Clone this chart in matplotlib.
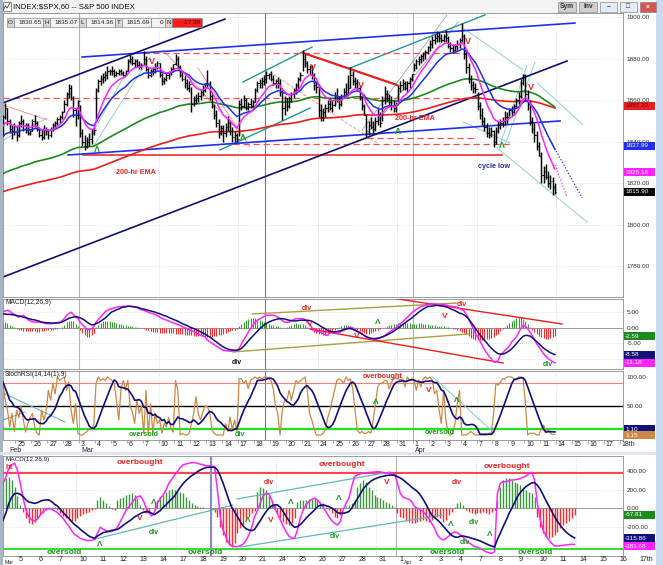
import numpy as np
import pandas as pd
import matplotlib
matplotlib.use("Agg")
import matplotlib.pyplot as plt
import matplotlib.transforms as mtransforms
from matplotlib.patches import Rectangle

plt.rcParams['font.family'] = ['Liberation Sans', 'DejaVu Sans']

W, H = 663, 565

# S&P 500 60-min bars, Feb 24 .. Apr 11 2014, one row per session (7 bars)
high = [
    1845, 1853, 1858.7, 1856, 1851, 1848, 1849,       # Feb 24
    1848, 1850, 1852.9, 1851, 1849, 1849, 1846,       # Feb 25
    1851, 1852.7, 1850, 1847, 1846, 1848, 1847,       # Feb 26
    1846, 1847, 1849, 1850, 1852, 1853, 1854.5,       # Feb 27
    1860, 1864, 1867.9, 1867, 1862, 1856, 1860,       # Feb 28
    1857.7, 1846, 1843, 1842, 1844, 1846, 1847,       # Mar 3
    1866, 1870, 1872, 1873, 1874, 1876.2, 1875,       # Mar 4
    1876.5, 1875, 1874, 1875, 1875, 1874, 1874.5,     # Mar 5
    1880, 1881.9, 1881, 1880, 1880, 1879, 1878,       # Mar 6
    1883.6, 1881, 1876, 1875, 1876, 1878, 1879,       # Mar 7
    1877.9, 1873, 1871, 1873, 1874, 1876, 1877.5,     # Mar 10
    1882.4, 1881, 1877, 1874, 1872, 1870, 1869,       # Mar 11
    1866.2, 1862, 1863, 1864, 1865, 1867, 1868.4,     # Mar 12
    1874.4, 1869, 1863, 1858, 1855, 1851, 1848,       # Mar 13
    1848, 1849, 1852.4, 1850, 1847, 1845, 1844,       # Mar 14
    1860, 1861, 1862.3, 1861, 1859, 1861, 1860,       # Mar 17
    1866, 1869, 1870, 1871, 1872, 1873.8, 1873,       # Mar 18
    1874.1, 1872, 1870, 1871, 1870, 1866, 1862,       # Mar 19
    1861, 1862, 1864, 1866, 1868, 1871, 1873.5,       # Mar 20
    1884, 1882, 1879, 1877, 1877, 1873, 1869,         # Mar 21
    1867.7, 1858, 1856, 1858, 1860, 1861, 1860,       # Mar 24
    1864, 1866, 1862, 1863, 1866, 1868, 1871.9,       # Mar 25
    1875.9, 1874, 1871, 1870, 1867, 1862, 1858,       # Mar 26
    1853, 1850, 1852, 1850, 1852, 1855.6, 1854,       # Mar 27
    1862, 1866.6, 1865, 1863, 1862, 1860, 1859,       # Mar 28
    1867, 1869, 1870, 1869, 1869, 1871, 1872.3,       # Mar 31
    1878, 1880, 1881, 1882, 1883, 1884, 1885.8,       # Apr 1
    1889, 1891, 1892, 1893.2, 1893, 1892, 1892,       # Apr 2
    1893.8, 1891, 1888, 1887, 1887, 1889, 1890,       # Apr 3
    1897.3, 1892, 1884, 1878, 1872, 1869, 1868,       # Apr 4
    1864, 1859, 1856, 1852, 1849, 1847, 1847,         # Apr 7
    1845.5, 1847, 1850, 1851, 1852, 1854.9, 1854,     # Apr 8
    1856, 1857, 1858, 1861, 1864, 1870, 1872.4,       # Apr 9
    1872.5, 1865, 1860, 1852, 1849, 1845, 1840,       # Apr 10
    1835.1, 1828, 1829, 1826, 1824, 1823, 1820,       # Apr 11
]
low = [
    1836.8, 1843, 1851, 1848, 1844, 1841, 1843,
    1840.2, 1842, 1847, 1845, 1844, 1843, 1843,
    1845, 1847, 1845, 1842, 1840.7, 1841, 1843,
    1841.1, 1842, 1845, 1846, 1848, 1849, 1851,
    1854, 1857, 1861, 1860, 1852, 1847.5, 1851,
    1842, 1838, 1836, 1837, 1838, 1839, 1843,
    1849.2, 1864, 1867, 1868, 1869, 1870, 1872,
    1872, 1871.1, 1871.5, 1872, 1872, 1871.5, 1872,
    1874.2, 1878, 1877, 1876, 1876, 1875, 1875,
    1877, 1874, 1870.6, 1871, 1872, 1873, 1875,
    1871, 1867, 1867.5, 1869, 1870, 1872, 1874,
    1877, 1875, 1871, 1869, 1866, 1865, 1863.9,
    1854.4, 1857, 1858, 1859, 1860, 1862, 1864,
    1866, 1860, 1856, 1851, 1847, 1841.9, 1843,
    1840, 1842, 1845, 1843, 1840, 1839.6, 1840,
    1842.8, 1855, 1856, 1855, 1855, 1856, 1856,
    1858.9, 1864, 1866, 1866, 1867, 1868, 1870,
    1869, 1867, 1866, 1866, 1862, 1850.3, 1853,
    1854.6, 1856, 1859, 1861, 1863, 1865, 1869,
    1874, 1876, 1873, 1872, 1870, 1865, 1863.5,
    1852, 1849.7, 1850, 1852, 1854, 1855, 1854,
    1857, 1859, 1855.9, 1857, 1861, 1862, 1863,
    1866, 1867, 1866, 1865, 1860, 1855, 1852.6,
    1842.1, 1843, 1846, 1844, 1845, 1848, 1847,
    1850.1, 1858, 1859, 1857, 1855, 1854, 1854,
    1859.2, 1864, 1865, 1865, 1864, 1866, 1869,
    1873.9, 1875, 1877, 1878, 1879, 1880, 1882,
    1883.8, 1885, 1887, 1888, 1888, 1888, 1888,
    1888, 1885, 1883, 1882.7, 1883, 1884, 1885,
    1888, 1880, 1873, 1868, 1865, 1863.3, 1863.5,
    1855, 1851, 1848, 1845, 1842, 1841.5, 1842,
    1837.5, 1839, 1844, 1846, 1847, 1848, 1849,
    1852.4, 1852.5, 1853, 1856, 1858, 1861, 1867,
    1860, 1855, 1848, 1844, 1840, 1836, 1833.1,
    1820, 1820, 1822, 1818, 1817, 1814.4, 1814.5,
]
close = [
    1843, 1852, 1856, 1850, 1846, 1845, 1847.6,
    1843, 1849, 1850, 1846, 1848, 1844, 1845.1,
    1850, 1849, 1846, 1843, 1842, 1846, 1845.2,
    1843, 1846, 1848, 1849, 1851, 1852, 1854.3,
    1858, 1863, 1866, 1861, 1855, 1853, 1859.5,
    1844, 1840, 1838, 1840, 1841, 1844, 1845.7,
    1865, 1869, 1870, 1871, 1872, 1874, 1873.9,
    1874, 1872, 1873, 1874, 1873, 1872, 1873.8,
    1879, 1880, 1878, 1879, 1877, 1876, 1877,
    1880, 1875, 1872, 1874, 1875, 1876, 1878,
    1872, 1869, 1870, 1872, 1873, 1875, 1877.2,
    1880, 1876, 1872, 1870, 1868, 1866, 1867.6,
    1858, 1860, 1861, 1862, 1864, 1865, 1868.2,
    1868, 1862, 1857, 1853, 1849, 1844, 1846.3,
    1844, 1847, 1849, 1845, 1842, 1843, 1841.1,
    1858, 1857, 1860, 1856, 1858, 1857, 1858.8,
    1865, 1868, 1868, 1869, 1870, 1872, 1872.3,
    1870, 1868, 1869, 1868, 1864, 1856, 1860.8,
    1857, 1861, 1863, 1865, 1867, 1870, 1872,
    1880, 1878, 1875, 1876, 1872, 1867, 1866.5,
    1855, 1852, 1854, 1856, 1858, 1856, 1857.4,
    1862, 1860, 1858, 1862, 1864, 1863, 1865.6,
    1872, 1869, 1868, 1866, 1861, 1857, 1852.6,
    1845, 1848, 1847, 1846, 1850, 1853, 1849,
    1860, 1863, 1861, 1859, 1857, 1856, 1857.6,
    1866, 1867, 1868, 1866, 1868, 1870, 1872.3,
    1877, 1879, 1880, 1881, 1882, 1883, 1885.5,
    1887, 1889, 1890, 1891, 1890, 1889, 1890.9,
    1890, 1886, 1885, 1884, 1886, 1887, 1888.8,
    1891, 1882, 1876, 1870, 1867, 1866, 1865.1,
    1857, 1853, 1850, 1847, 1844, 1843, 1845,
    1840, 1845, 1848, 1849, 1850, 1852, 1852,
    1855, 1854, 1857, 1860, 1862, 1868, 1872.2,
    1863, 1858, 1850, 1846, 1843, 1838, 1833.1,
    1824, 1826, 1823, 1820, 1821, 1818, 1815.7,
]

# MACD(12,26,9) pane under the price, same bars
macd_line = [
    5.2, 5.2, 5.5, 5.7, 5.4, 4.8, 4.4,
    3.9, 3.5, 3.8, 4.1, 3.5, 2.7, 2.3,
    2.0, 1.9, 1.9, 1.9, 1.8, 1.6, 1.4,
    1.4, 1.4, 1.4, 1.6, 1.7, 1.9, 2.3,
    3.0, 4.1, 4.6, 5.1, 4.4, 3.5, 3.1,
    1.9, 1.1, 0.3, -0.5, -0.5, -0.2, 0.5,
    1.9, 2.7, 3.5, 4.4, 5.2, 5.7, 6.1,
    6.2, 6.5, 6.7, 6.8, 6.9, 7.0, 7.0,
    7.0, 7.0, 6.9, 6.8, 6.6, 6.2, 5.9,
    5.7, 5.4, 5.1, 4.8, 4.6, 4.3, 4.0,
    3.5, 3.1, 2.8, 2.5, 2.3, 1.9, 1.6,
    1.4, 1.1, 0.8, 0.4, 0.1, -0.2, -0.5,
    -0.9, -1.2, -1.6, -1.9, -2.3, -2.6, -2.9,
    -3.9, -4.4, -4.9, -5.4, -5.8, -6.3, -6.8,
    -7.2, -7.3, -7.4, -7.5, -7.4, -7.3, -7.2,
    -6.6, -5.1, -3.8, -2.7, -1.3, -0.2, 0.9,
    1.9, 2.5, 2.9, 3.3, 3.8, 4.1, 4.1,
    4.1, 4.1, 3.9, 3.5, 3.1, 2.3, 1.9,
    1.9, 1.9, 2.3, 2.7, 3.0, 3.0, 3.0,
    3.0, 2.7, 1.9, 1.2, 0.1, -0.8, -1.1,
    -1.2, -1.4, -1.8, -2.3, -2.4, -1.3, -1.5,
    -1.6, -1.8, -1.5, -1.0, -0.8, -0.4, 0.0,
    0.3, 0.0, -0.5, -1.0, -1.4, -1.9, -2.5,
    -2.9, -3.3, -3.5, -3.8, -3.7, -3.5, -3.2,
    -2.9, -2.5, -1.9, -1.4, -1.0, -0.4, 0.1,
    0.8, 1.4, 2.0, 2.7, 3.4, 4.2, 4.9,
    5.5, 6.0, 6.5, 6.9, 7.1, 7.3, 7.5,
    7.7, 7.8, 7.8, 7.7, 7.6, 7.6, 7.6,
    7.4, 7.2, 7.0, 6.9, 6.8, 6.7, 6.2,
    5.9, 5.5, 4.4, 3.0, 1.4, -0.2, -1.8,
    -2.9, -4.2, -5.6, -7.0, -8.1, -9.1, -10.0,
    -11.0, -11.0, -10.4, -8.8, -8.1, -7.2, -6.5,
    -5.8, -4.5, -3.8, -2.9, -1.6, -0.2, 0.9,
    0.6, -0.2, -1.3, -2.4, -3.7, -5.1, -6.1,
    -7.2, -8.3, -9.1, -9.9, -10.4, -10.9, -11.18,
]
macd_signal = [
    4.7, 4.6, 4.5, 4.4, 4.4, 4.3, 4.2,
    4.0, 3.9, 3.7, 3.5, 3.3, 3.1, 2.9,
    2.7, 2.6, 2.4, 2.2, 1.9, 1.8, 1.7,
    1.7, 1.6, 1.6, 1.6, 1.6, 1.7, 1.9,
    2.3, 2.7, 3.1, 3.3, 3.5, 3.7, 3.5,
    3.3, 2.9, 2.5, 1.9, 1.4, 1.0, 1.1,
    1.4, 1.7, 2.2, 2.7, 3.2, 3.9, 4.6,
    5.2, 5.5, 5.9, 6.1, 6.5, 6.7, 6.8,
    7.0, 7.0, 6.9, 6.8, 6.7, 6.5, 6.2,
    6.1, 5.9, 5.7, 5.5, 5.3, 5.1, 4.8,
    4.6, 4.3, 4.0, 3.8, 3.4, 3.1, 2.8,
    2.5, 2.2, 1.8, 1.4, 1.1, 0.8, 0.4,
    0.1, -0.2, -0.5, -0.9, -1.2, -1.6, -1.9,
    -2.5, -2.9, -3.4, -4.0, -4.5, -5.1, -5.6,
    -6.1, -6.5, -6.8, -7.0, -7.1, -7.2, -7.2,
    -7.0, -6.6, -5.9, -5.1, -4.2, -3.4, -2.6,
    -1.8, -1.1, -0.3, 0.3, 1.0, 1.5, 1.9,
    2.2, 2.5, 2.7, 2.9, 3.0, 3.0, 2.9,
    2.7, 2.5, 2.4, 2.3, 2.3, 2.4, 2.5,
    2.5, 2.5, 2.5, 2.4, 2.2, 1.8, 1.4,
    1.0, 0.5, 0.1, -0.3, -0.8, -1.1, -1.2,
    -1.3, -1.2, -1.0, -0.8, -0.5, -0.3, -0.2,
    -0.2, -0.4, -0.8, -1.1, -1.5, -1.9, -2.4,
    -2.8, -3.1, -3.3, -3.4, -3.4, -3.3, -3.1,
    -2.9, -2.6, -2.3, -1.9, -1.5, -1.1, -0.5,
    0.0, 0.5, 1.1, 1.6, 2.2, 2.7, 3.2,
    3.9, 4.4, 5.1, 5.6, 6.1, 6.5, 6.9,
    7.0, 7.1, 7.2, 7.3, 7.2, 7.1, 7.0,
    6.8, 6.6, 6.2, 5.9, 5.6, 5.2, 4.8,
    4.6, 4.2, 3.7, 2.9, 1.9, 0.9, -0.2,
    -1.2, -2.2, -3.1, -4.0, -4.8, -5.7, -6.5,
    -7.2, -7.8, -8.3, -8.4, -8.4, -8.2, -7.8,
    -7.3, -6.7, -5.9, -5.1, -4.2, -3.4, -2.7,
    -2.4, -2.4, -2.6, -3.1, -3.8, -4.4, -5.1,
    -5.8, -6.5, -7.0, -7.5, -8.0, -8.3, -8.58,
]
macd_hist = [
    1.2, 1.6, 1.9, 1.6, 1.0, 0.5, 0.2,
    -0.3, -0.5, -0.7, -0.9, -1.0, -1.1, -1.0,
    -0.9, -1.0, -1.2, -1.3, -1.1, -0.9, -0.8,
    -0.7, -0.6, -0.5, -0.4, -0.2, 0.1, 0.4,
    1.0, 1.8, 2.3, 2.4, 2.1, 1.4, 0.6,
    -0.6, -1.5, -2.3, -2.9, -2.9, -2.4, -1.5,
    0.3, 1.0, 1.6, 2.2, 2.4, 2.4, 2.2,
    2.0, 1.8, 1.6, 1.4, 1.2, 1.0, 0.9,
    0.8, 0.6, 0.5, 0.4, 0.2, 0.1, 0.0,
    -0.3, -0.5, -0.8, -1.0, -1.2, -1.3, -1.4,
    -1.5, -1.5, -1.5, -1.6, -1.6, -1.7, -1.7,
    -1.8, -1.9, -2.0, -2.1, -2.2, -2.2, -2.3,
    -2.4, -2.5, -2.6, -2.6, -2.7, -2.7, -2.8,
    -2.9, -2.9, -2.8, -2.7, -2.6, -2.4, -2.2,
    -2.0, -1.7, -1.4, -1.1, -0.8, -0.5, -0.2,
    0.5, 1.2, 2.0, 2.6, 3.0, 3.2, 3.2,
    3.1, 2.9, 2.6, 2.3, 2.0, 1.7, 1.4,
    1.1, 0.9, 0.7, 0.5, 0.3, 0.1, -0.1,
    0.2, 0.6, 1.0, 1.3, 1.5, 1.4, 1.2,
    1.4, 1.0, 0.4, -0.3, -0.8, -1.2, -1.5,
    -1.8, -2.1, -2.3, -2.2, -2.0, -1.5, -1.1,
    -0.6, -0.3, 0.2, 0.6, 0.9, 1.0, 0.9,
    0.6, 0.3, -0.2, -0.7, -1.1, -1.4, -1.6,
    -1.8, -1.8, -1.6, -1.3, -1.0, -0.7, -0.4,
    -0.1, 0.3, 0.6, 0.9, 1.1, 1.3, 1.4,
    1.5, 1.6, 1.6, 1.6, 1.5, 1.5, 1.4,
    1.4, 1.4, 1.5, 1.5, 1.4, 1.3, 1.2,
    1.1, 1.0, 0.9, 0.8, 0.7, 0.6, 0.5,
    0.4, 0.2, 0.0, -0.2, -0.4, -0.6, -0.9,
    -1.2, -1.6, -2.1, -2.7, -3.2, -3.6, -3.9,
    -4.0, -4.0, -3.9, -3.8, -3.6, -3.4, -3.1,
    -2.8, -2.4, -1.8, -1.0, -0.3, 0.4, 1.0,
    1.6, 2.2, 2.7, 3.1, 3.5, 3.4, 3.0,
    2.3, 1.4, 0.4, -0.6, -1.4, -2.0, -2.5,
    -2.9, -3.2, -3.4, -3.4, -3.3, -3.0, -2.59,
]

# StochRSI(14,14(1),9) %K, same bars
stoch_k = [
    94, 89, 60, 43, 14, 37, 6,
    43, 30, 50, 25, 5, 20, 30,
    37, 14, 3, 0, 43, 26, 40,
    77, 60, 89, 71, 100, 94, 97,
    100, 77, 91, 43, 20, 54, 3,
    0, 0, 3, 6, 11, 10, 17,
    89, 100, 94, 97, 94, 100, 97,
    94, 89, 60, 26, 80, 94, 77,
    94, 49, 40, 20, 60, 37, 50,
    3, 77, 0, 54, 3, 37, 20,
    26, 3, 20, 14, 30, 10, 5,
    94, 77, 0, 3, 0, 0, 3,
    20, 37, 66, 37, 26, 40, 50,
    49, 40, 9, 3, 0, 0, 0,
    0, 20, 6, 31, 10, 26, 5,
    97, 97, 89, 94, 80, 94, 97,
    100, 97, 100, 97, 100, 100, 97,
    94, 80, 50, 37, 0, 43, 60,
    60, 77, 60, 77, 94, 89, 94,
    97, 100, 77, 37, 26, 10, 0,
    0, 0, 3, 10, 30, 43, 60,
    77, 94, 97, 94, 89, 100, 94,
    97, 80, 43, 9, 3, 6, 3,
    3, 6, 3, 26, 54, 83, 89,
    89, 94, 94, 80, 89, 100, 97,
    97, 94, 97, 83, 100, 94, 97,
    94, 77, 94, 83, 97, 100, 97,
    100, 94, 71, 77, 43, 20, 77,
    26, 3, 0, 3, 20, 54, 77,
    0, 0, 0, 3, 6, 3, 0,
    0, 0, 0, 0, 0, 3, 3,
    37, 89, 86, 91, 97, 97, 100,
    100, 100, 97, 97, 100, 100, 97,
    54, 0, 3, 3, 3, 0, 0,
    11, 17, 6, 9, 3, 1, 1,
]

# second window, MACD(12,26,9) panel, Mar 4 .. Apr 11
bm_macd = [
    160, 213, 266, 337, 426, 462, 480,
    408, 266, 107, -18, -89, -124, -135,
    -117, -71, -36, -11, -4, -11, -28,
    -46, -75, -107, -153, -188, -238, -280,
    -295, -320, -330, -341, -344, -341, -330,
    -266, -202, -224, -238, -248, -248, -231,
    -202, -142, -82, -25, 18, 53, 96,
    124, 131, 89, 11, -46, -82, -36,
    53, 107, 142, 195, 266, 309, 355,
    390, 437, 462, 472, 479, 486, 486,
    479, 469, 462, 454, 451, 447, 444,
    195, -89, -231, -309, -373, -398, -408,
    -408, -398, -380, -344, -284, -202, -89,
    -25, 60, 131, 160, 153, 89, 0,
    -53, -124, -188, -248, -295, -316, -320,
    -231, -107, -18, 36, 71, 96, 107,
    89, 53, 11, -36, -89, -131, -160,
    -178, -142, -18, 53, 107, 231, 337,
    355, 366, 373, 376, 380, 383, 387,
    390, 387, 380, 376, 373, 369, 366,
    266, 160, 117, 107, 96, 71, 18,
    0, -11, -36, -71, -107, -160, -213,
    -284, -320, -337, -320, -295, -266, -252,
    -259, -284, -309, -337, -366, -387, -408,
    -415, -426, -444, -462, -472, -479, -462,
    160, 266, 284, 284, 291, 302, 302,
    309, 316, 330, 344, 366, 383, 302,
    53, -124, -231, -295, -337, -373, -401,
    -401, -398, -394, -390, -387, -383, -384,
]
bm_signal = [
    -231, -178, -124, -46, 53, 117, 156,
    160, 149, 124, 89, 67, 60, 53,
    60, 75, 85, 89, 89, 71, 43,
    25, -11, -46, -78, -107, -142, -174,
    -195, -224, -248, -273, -295, -309, -320,
    -295, -277, -259, -252, -245, -234, -231,
    -224, -206, -181, -160, -138, -117, -92,
    -75, -57, -43, -36, -39, -53, -67,
    -46, -25, 11, 36, 71, 99, 131,
    178, 224, 263, 295, 323, 348, 366,
    390, 408, 422, 433, 437, 437, 437,
    408, 344, 266, 178, 89, 11, -36,
    -89, -142, -188, -217, -231, -238, -224,
    -178, -131, -82, -36, 0, 25, 36,
    36, 11, -36, -82, -131, -174, -202,
    -195, -174, -142, -107, -75, -46, -18,
    18, 32, 36, 28, 18, 4, -18,
    -46, -53, -53, -46, -36, 0, 53,
    103, 153, 206, 241, 270, 295, 312,
    323, 334, 341, 348, 351, 355, 351,
    337, 323, 302, 277, 252, 224, 202,
    178, 142, 96, 43, -18, -71, -99,
    -124, -153, -188, -224, -259, -288, -305,
    -309, -298, -295, -302, -309, -320, -327,
    -337, -348, -362, -376, -391, -401, -412,
    -330, -266, -195, -131, -60, 0, 60,
    124, 167, 202, 231, 252, 270, 273,
    245, 202, 142, 82, 25, -32, -89,
    -138, -181, -220, -252, -277, -298, -316,
]
bm_hist = [
    200, 240, 266, 320, 337, 302, 231,
    130, 30, -36, -107, -160, -170, -145,
    -107, -71, -46, -18, 11, 18, 11,
    -18, -53, -82, -107, -124, -131, -131,
    -107, -82, -60, -46, -36, -18, -4,
    89, 124, 89, 53, 25, -11, -18,
    89, 107, 124, 142, 153, 160, 142,
    107, 36, -18, -53, -46, 0, 71,
    89, 124, 142, 178, 195, 202, 195,
    188, 178, 160, 124, 89, 60, 36,
    25, 18, 11, 4, 0, -11, -36,
    -89, -195, -284, -355, -390, -408, -373,
    -266, -213, -178, -124, -89, -53, -25,
    178, 224, 213, 195, 142, 89, 36,
    -53, -107, -142, -167, -178, -160, -107,
    71, 89, 89, 89, 96, 103, 107,
    89, 71, 53, 18, -18, -53, -89,
    -107, -71, 0, 25, 36, 53, 89,
    231, 266, 302, 284, 231, 195, 142,
    124, 107, 89, 71, 53, 36, 18,
    -53, -89, -107, -131, -142, -153, -153,
    -146, -131, -124, -131, -142, -124, -89,
    -89, -107, -142, -124, -71, -36, 18,
    53, 71, 36, -18, -36, -53, -60,
    -53, -46, -36, -53, -60, -36, -18,
    89, 231, 302, 320, 320, 302, 284,
    266, 249, 231, 195, 178, 160, 124,
    -89, -195, -266, -302, -320, -309, -284,
    -249, -213, -178, -153, -131, -107, -68,
]

top_days = ['25', '26', '27', '28', '3', '4', '5', '6', '7', '10', '11', '12', '13', '14',
            '17', '18', '19', '20', '21', '24', '25', '26', '27', '28', '31', '1', '2', '3',
            '4', '7', '8', '9', '10', '11', '14', '15', '16', '17', '18th']
bottom_days = top_days[6:-2] + ['17th']
month_names = ['Feb', 'Mar', 'Apr']
month_t = [-0.53, 4, 25]

# analyst drawings, (session, value) pairs
navy_lines = [((-0.78, 1858.6), (13.18, 1899.0)), ((-0.78, 1774.7), (34.69, 1878.8))]
blue_lines = [((4.19, 1880.7), (35.19, 1897.1)), ((3.31, 1833.5), (34.25, 1849.9))]
red_lines = [((4.25, 1833.5), (30.6, 1833.5)), ((18.09, 1882.7), (24.0, 1867.2))]
red_dashed = [((8.0, 1882.7), (28.7, 1882.7)), ((-0.78, 1861.0), (29.4, 1861.0)),
              ((22.1, 1841.7), (29.0, 1841.7)), ((13.7, 1838.8), (31.1, 1838.8))]
salmon_lines = [((-0.78, 1857.6), (1.99, 1850.4)), ((9.28, 1884.1), (14.13, 1844.1)),
                ((11.48, 1875.4), (14.75, 1837.3))]
teal_lines = [((14.31, 1868.7), (18.65, 1885.5)), ((21.04, 1875.4), (29.53, 1901.0)),
              ((12.87, 1835.9), (18.53, 1856.1))]
gray_lines = [((21.8, 1845.5), (27.14, 1901.0)), ((22.43, 1846.5), (27.84, 1897.6))]
pale_lines = [((4.5, 1839.3), (7.4, 1879.3)), ((4.88, 1837.4), (8.47, 1880.7)),
              ((-0.78, 1840.7), (1.99, 1851.3)), ((28.15, 1894.7), (31.92, 1874.5)),
              ((32.8, 1868.3), (35.7, 1848.0)), ((28.15, 1849.4), (31.11, 1839.3)),
              ((30.29, 1836.9), (35.95, 1801.2)), ((30.48, 1838.3), (32.17, 1876.9)),
              ((30.79, 1838.3), (32.68, 1878.3))]
macd_olive = [((14.9, 4.5), (27.77, 8.06)), ((13.68, -7.74), (28.46, -1.94))]
macd_red = [((24.06, 9.35), (34.38, 1.29)), ((18.53, -0.32), (30.67, -11.29))]
stoch_teal = [((-0.78, 72.4), (3.12, 22.4)), ((-0.78, 25.9), (0.6, 39.7))]
stoch_pale = [((26.26, 100), (30.04, 5.2))]
bottom_teal = [((9.85, -333), (16.85, 35)), ((17.05, 99), (24.7, 386)), ((17.2, -412), (27.35, -71))]

NAVY = '#10107a'
MAG = '#ff22ff'
BLUE = '#1f2ff0'
GREEN = '#1d8a1d'
RED = '#ee1c1c'
HGREEN = '#3a9a3a'
HRED = '#ff2a2a'
ORANGE = '#cc8844'


def ema(vals, n, seed):
    a = 2.0 / (n + 1)
    out, e = [], seed
    for v in vals:
        e = e + a * (v - e)
        out.append(e)
    return np.array(out)


high, low, close = np.array(high), np.array(low), np.array(close)
t = -1 + (np.arange(len(close)) + 0.5) / 7
opn = np.r_[close[0], close[:-1]]

ema_fast = ema(close, 10, 1847)
ema_mid = ema(close, 20, 1841)
ema_slow = ema(close, 100, 1823.5)
ema_200 = ema(close, 200, 1815.2)

mh = np.array(macd_hist)
k = np.array(stoch_k, dtype=float)
d = pd.Series(k).rolling(9, min_periods=1).mean().values
tb = 5 + (np.arange(len(bm_macd)) + 0.5) / 7

fig = plt.figure(figsize=(W / 100, H / 100), dpi=100)


def area(l, tp, r, b, z=0):
    return fig.add_axes([l / W, 1 - b / H, (r - l) / W, (b - tp) / H], zorder=z)


bg = area(0, 0, W, H, z=-10)
bg.set_xlim(0, W); bg.set_ylim(H, 0); bg.axis('off')
ov = area(0, 0, W, H, z=50)
ov.set_xlim(0, W); ov.set_ylim(H, 0); ov.axis('off')

# window chrome
bg.add_patch(Rectangle((0, 0), W, H, fc='white', ec='none'))
bg.add_patch(Rectangle((0, 0), 656, 13, fc='#f3f3f3', ec='none'))
bg.add_patch(Rectangle((0, 0), 2.5, H, fc='#a9b5c6', ec='none'))
bg.add_patch(Rectangle((655.5, 0), 8, H, fc='#c9dbf1', ec='none'))
bg.add_patch(Rectangle((0, 452), 656, 3, fc='#dfe5ee', ec='none'))
bg.add_patch(Rectangle((2.5, 2), 8, 9, fc='white', ec='#707070', lw=0.6))
bg.plot([3.5, 5.5, 7, 9.5], [9.5, 6, 8, 3.5], color='#404040', lw=0.6)
bg.text(13, 7, 'INDEX:$SPX,60 -- S&P 500 INDEX', fontsize=5.6, va='center', color='#101010')
for x0, w, fc, s, tc in [(558, 18, '#cfcfcf', 'Sym', '#333333'), (579, 18, '#cfcfcf', 'Inv', '#333333'),
                         (600, 17, '#e3ebf6', '\u2013', '#333333'), (620, 17, '#e3ebf6', '\u25a1', '#333333'),
                         (639.5, 16, '#d9534f', '\u00d7', 'white')]:
    bg.add_patch(Rectangle((x0, 2), w, 9.5, fc=fc, ec='#8a8a8a', lw=0.5))
    bg.text(x0 + w / 2, 6.8, s, fontsize=4.8, ha='center', va='center', color=tc, fontweight='bold')

# quote strip
cells = [('O', '1830.65'), ('H', '1835.07'), ('L', '1814.36'), ('T', '1815.69')]
x0 = 7
for lab, val in cells:
    ov.add_patch(Rectangle((x0, 18), 7, 9, fc='#d6d6d6', ec='#8a8a8a', lw=0.5))
    ov.text(x0 + 3.5, 22.6, lab, fontsize=4.6, ha='center', va='center', color='#222222')
    ov.add_patch(Rectangle((x0 + 7, 18), 29, 9, fc='#f2f2f2', ec='#8a8a8a', lw=0.5))
    ov.text(x0 + 34.5, 22.6, val, fontsize=4.6, ha='right', va='center', color='#222222')
    x0 += 36
ov.add_patch(Rectangle((x0, 18), 14, 9, fc='#f2f2f2', ec='#8a8a8a', lw=0.5))
ov.text(x0 + 12.5, 22.6, '0', fontsize=4.6, ha='right', va='center', color='#222222')
ov.add_patch(Rectangle((x0 + 14, 18), 7, 9, fc='#d6d6d6', ec='#8a8a8a', lw=0.5))
ov.text(x0 + 17.5, 22.6, 'N', fontsize=4.6, ha='center', va='center', color='#222222')
ov.add_patch(Rectangle((x0 + 21, 18), 30, 9, fc='#ff1a1a', ec='#8a8a8a', lw=0.5))
ov.text(x0 + 49.5, 22.6, '-17.39', fontsize=4.6, ha='right', va='center', color='#202020')

P = (3, 13, 623, 297)
M = (3, 299, 623, 369)
S = (3, 371, 623, 440)
B = (3, 456, 623, 556)
XT = (-0.78, 38.21)
XB = (5.35, 36.35)


def panel(box, ylim, xlim, ticks):
    a = area(*box)
    a.set_xlim(*xlim)
    a.set_ylim(*ylim)
    a.set_xticks([])
    a.yaxis.tick_right()
    a.set_yticks(ticks)
    a.set_yticklabels(['%.2f' % v for v in ticks], fontsize=4.6, color='#303030')
    a.tick_params(axis='y', length=0, pad=2.5)
    for s in a.spines.values():
        s.set_color('#8c8c8c')
        s.set_linewidth(0.6)
    return a


def seg(a, lines, **kw):
    for (x1, y1), (x2, y2) in lines:
        a.plot([x1, x2], [y1, y2], **kw)


def vgrid(a, mondays, months):
    for m in mondays:
        a.axvline(m, color='#c4c4c4', lw=0.5, ls=(0, (1, 2)), zorder=0)
    for m in months:
        a.axvline(m, color='#b4b4b4', lw=0.8, zorder=0)


def ypx(box, ylim, v):
    return box[1] + (ylim[1] - v) / (ylim[1] - ylim[0]) * (box[3] - box[1])


def value_boxes(box, ylim, vals, colors, tcolors, gap=8.2, shift=0):
    last = -100
    for v, c, tc in zip(vals, colors, tcolors):
        y = max(ypx(box, ylim, v) + shift, last + gap)
        last = y
        ov.add_patch(Rectangle((623.5, y - 4), 31.5, 8, fc=c, ec='none'))
        ov.text(625, y + 0.2, '%.2f' % v, fontsize=4.6, va='center', color=tc)


mondays = [9, 14, 19, 24, 29, 34]
months = [4, 25]

# ---- price pane
PY = (1765.06, 1901.93)
ax = panel(P, PY, XT, [1780, 1800, 1820, 1840, 1860, 1880, 1900])
for p in [1780, 1800, 1820, 1840, 1860, 1880, 1900]:
    ax.axhline(p, color='#cdcdcd', lw=0.5, ls=(0, (1, 2)), zorder=0)
vgrid(ax, mondays, months)
seg(ax, pale_lines, color='#8fd0d0', lw=0.7, zorder=2)
seg(ax, salmon_lines, color='#f08a8a', lw=0.6, zorder=2)
seg(ax, [((16.01, 1873.5), (22.74, 1839.3))], color='#f08a8a', lw=0.6, ls=(0, (4, 2)), zorder=2)
seg(ax, gray_lines, color='#a0a0a0', lw=0.6, zorder=2)
seg(ax, teal_lines, color='#1f9a8c', lw=1.0, zorder=2)
seg(ax, red_dashed, color='#f05050', lw=0.9, ls=(0, (5, 3)), zorder=2)
seg(ax, red_lines[:1], color=RED, lw=1.1, zorder=2)
seg(ax, red_lines[1:], color=RED, lw=1.6, zorder=2)
seg(ax, blue_lines, color=BLUE, lw=1.2, zorder=2)
seg(ax, navy_lines, color='#10106e', lw=1.2, zorder=2)
ax.plot(t, ema_200, color=RED, lw=1.2, zorder=3)
ax.plot(t, ema_slow, color=GREEN, lw=1.2, zorder=3)
ax.vlines(t, low, high, color='black', lw=1.05, zorder=4)
ax.hlines(close, t, t + 0.07, color='black', lw=0.8, zorder=4)
ax.hlines(opn, t - 0.07, t, color='black', lw=0.8, zorder=4)
ax.plot(t, ema_mid, color=BLUE, lw=1.1, zorder=5)
ax.plot(t, ema_fast, color=MAG, lw=1.1, zorder=5)
seg(ax, [((33.62, 1840.7), (35.64, 1812.8))], color=BLUE, lw=0.9, ls=(0, (1, 1.5)), zorder=5)
seg(ax, [((33.94, 1828.7), (34.69, 1813.3))], color=MAG, lw=0.9, ls=(0, (1, 1.5)), zorder=5)
ax.axvline(15.7, color='#7474c8', lw=0.8, zorder=1)
value_boxes(P, PY, [1857.22, 1837.99, 1825.18, 1815.90], [RED, BLUE, MAG, 'black'],
            ['#202020', 'white', 'white', 'white'])

# ---- MACD pane
MY = (-13.23, 9.35)
am = panel(M, MY, XT, [5, 0, -5])
for p in [5, -5, -10]:
    am.axhline(p, color='#cdcdcd', lw=0.5, ls=(0, (1, 2)), zorder=0)
am.axhline(0, color='#9a9a9a', lw=0.7, zorder=1)
vgrid(am, mondays, months)
am.vlines(t, 0, mh, colors=np.where(mh >= 0, HGREEN, HRED), lw=0.8, zorder=2)
seg(am, macd_olive, color='#a8a040', lw=1.0, zorder=3)
seg(am, macd_red, color=RED, lw=1.0, zorder=3)
am.plot(t, macd_line, color=MAG, lw=1.1, zorder=4)
am.plot(t, macd_signal, color=NAVY, lw=1.1, zorder=4)
am.axvline(15.7, color='#7474c8', lw=0.8, zorder=1)
value_boxes(M, MY, [-2.59, -8.58, -11.18], [GREEN, NAVY, MAG], ['white', 'white', 'white'])

# ---- StochRSI pane
SY = (-8.6, 110.3)
ast = panel(S, SY, XT, [100, 50])
vgrid(ast, mondays, months)
ast.axhline(90, color='#f08080', lw=0.8, zorder=1)
ast.axhline(50, color='black', lw=1.0, zorder=1)
ast.axhline(10, color='#22e022', lw=1.6, zorder=1)
seg(ast, stoch_teal, color='#5fb8b8', lw=0.8, zorder=2)
seg(ast, stoch_pale, color='#8fd0d0', lw=0.8, zorder=2)
ast.plot(t, k, color=ORANGE, lw=0.9, zorder=3)
ast.plot(t, d, color=NAVY, lw=1.2, zorder=4)
ast.axvline(15.7, color='#7474c8', lw=0.8, zorder=1)
value_boxes(S, SY, [1.10, 1.15], [NAVY, ORANGE], ['white', 'white'], gap=6.5, shift=-5.5)
ast.set_xticks(range(0, 39))
ast.tick_params(axis='x', length=2, width=0.5, color='#8c8c8c', labelbottom=False)

tr_top = mtransforms.blended_transform_factory(ast.transData, ov.transData)
for i, lab in enumerate(top_days):
    ov.text(i + 0.12, 445, lab, transform=tr_top, fontsize=5, ha='left', va='center', color='#202020')
for name, m in zip(month_names, month_t):
    ov.text(m + 0.12, 450.5, name, transform=tr_top, fontsize=5, ha='left', va='center', color='#202020')

# ---- second window MACD
BY = (-507.5, 556.5)
ab = panel(B, BY, XB, [400, 200, 0, -200])
for p in [400, 200, -200, -400]:
    ab.axhline(p, color='#cdcdcd', lw=0.5, ls=(0, (1, 2)), zorder=0)
ab.axhline(0, color='#9a9a9a', lw=0.7, zorder=1)
vgrid(ab, [9, 14, 19, 24, 29, 34], [25])
ab.axhline(380, color='#ff2020', lw=1.2, zorder=1)
ab.axhline(-436, color='#33dd33', lw=1.4, zorder=1)
bh = np.array(bm_hist)
ab.vlines(tb, 0, bh, colors=np.where(bh >= 0, HGREEN, HRED), lw=1.0, zorder=2)
seg(ab, bottom_teal, color='#5fb8b8', lw=0.9, zorder=3)
ab.plot(tb, bm_macd, color=MAG, lw=1.1, zorder=4)
ab.plot(tb, bm_signal, color=NAVY, lw=1.2, zorder=4)
ab.axvline(15.75, color='#8c8cc0', lw=1.6, zorder=1)
value_boxes(B, BY, [-67.81, -315.86, -383.68], [GREEN, NAVY, MAG], ['white', 'white', 'white'])

tr_bot = mtransforms.blended_transform_factory(ab.transData, ov.transData)
for i, lab in enumerate(bottom_days):
    ov.text(i + 6 + 0.15, 559.3, lab, transform=tr_bot, fontsize=5, ha='left', va='center', color='#202020')
ov.text(5.45, 562.6, 'Mar', transform=tr_bot, fontsize=3.8, ha='left', va='center', color='#202020')
ov.text(25.4, 562.6, 'Apr', transform=tr_bot, fontsize=3.8, ha='left', va='center', color='#202020')

# ---- text annotations
def note(x, y, s, c, size=5.2, w='bold'):
    ov.text(x, y, s, color=c, fontsize=size, fontweight=w, ha='center', va='center')


TG, TR = '#1a9a1a', '#ee2020'
for x, y in [(97, 150), (243, 137), (398, 131), (502, 145)]:
    note(x, y, '\u039b', TG, 6.5)
for x, y in [(152, 62), (313, 67), (361, 85), (468, 42), (531, 88)]:
    note(x, y, 'V', TR, 6.5)
note(136, 172, '200-hr EMA', TR)
note(415, 119, '200-hr EMA', TR)
note(494, 166, 'cycle low', '#2a2a9a')

ov.text(5, 302, 'MACD(12,26,9)', fontsize=4.8, va='center', color='#202020')
note(237, 362, 'div', '#111111', 5)
note(307, 308, 'div', TR, 5)
note(310, 325, 'V', TR, 6)
note(357, 337, 'V', TR, 6)
note(378, 322, '\u039b', TG, 6)
note(445, 317, 'V', TR, 6)
note(462, 305, 'div', TR, 5)
note(548, 364, 'div', TG, 5)

ov.text(5, 375, 'StochRSI(14,14(1),9)', fontsize=4.8, va='center', color='#202020')
note(144, 435, 'oversold', TG, 5.2)
note(240, 435, 'div', TG, 5.2)
note(383, 376, 'overbought', TR, 5.2)
note(429, 391, 'V', TR, 6)
note(376, 402, '\u039b', TG, 6)
note(457, 401, '\u039b', TG, 6)
note(440, 433, 'oversold', TG, 5.2)

ov.text(5, 460, 'MACD(12,26,9)', fontsize=4.6, va='center', color='#202020')
ov.text(13, 467.5, 'ht', fontsize=5.6, fontweight='bold', ha='right', va='center', color=TR)
for x, y in [(140, 463), (342, 465), (507, 467)]:
    note(x, y, 'overbought', TR, 6)
for x, y in [(64, 552), (205, 552.5), (447, 552.5), (535, 552.5)]:
    note(x, y, 'oversold', TG, 6)
for x, y in [(100, 544), (154, 503), (248, 521), (291, 502), (339, 499), (451, 525), (490, 535)]:
    note(x, y, '\u039b', TG, 6)
for x, y in [(140, 518), (271, 520), (387, 482)]:
    note(x, y, 'V', TR, 6)
note(154, 533, 'div', TG, 5)
note(269, 483, 'div', TR, 5)
note(335, 537, 'div', TG, 5)
note(457, 482, 'div', TR, 5)
note(474, 522, 'div', TG, 5)
note(465, 543, 'div', TG, 5)

fig.savefig('out.png', dpi=100)
